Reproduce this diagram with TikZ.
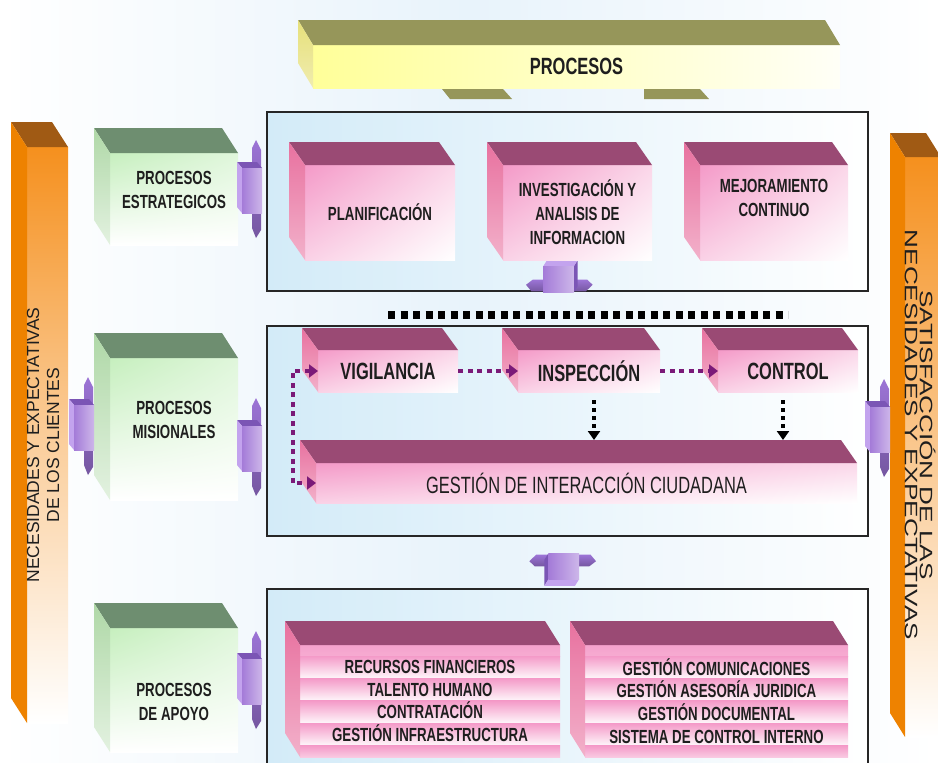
\documentclass[tikz,border=0pt]{standalone}
\usepackage{fontspec}
\setmainfont{Liberation Sans}
\newfontfamily\narrowfont[FakeStretch=0.7]{Liberation Sans}
\newfontfamily\widefont[FakeStretch=1.45]{Liberation Sans}
\usetikzlibrary{arrows.meta,positioning,calc,shadings}

\definecolor{bgBlue}{HTML}{E8F3FB}
\definecolor{frameBlue}{HTML}{D3EBF8}
\definecolor{txtDark}{HTML}{1E1E1E}
\definecolor{orangeF}{HTML}{F5901E}
\definecolor{orangeSide}{HTML}{EE8200}
\definecolor{orangeTop}{HTML}{A05A14}
\definecolor{yellowF}{HTML}{FFFF99}
\definecolor{yellowTop}{HTML}{96965A}
\definecolor{yellowSide}{HTML}{E6E07A}
\definecolor{greenF}{HTML}{C6EFBE}
\definecolor{greenTop}{HTML}{6E8E70}
\definecolor{greenSide}{HTML}{AFD8A7}
\definecolor{pinkF}{HTML}{F49AC8}
\definecolor{pinkTop}{HTML}{9A4A74}
\definecolor{pinkSide}{HTML}{E8719F}
\definecolor{jFront}{HTML}{A47BD8}
\definecolor{jTop}{HTML}{7B55B5}
\definecolor{jSide}{HTML}{C3A3EE}
\definecolor{jPlate}{HTML}{9C74D6}
\definecolor{dotPurple}{HTML}{7A1A78}

% top and left faces behind a front face node
\newcommand{\extrude}[5]{%
  \path[#4] (#1.north west) -- ($(#1.north west)+(-#2,-#3)$) -- ($(#1.north east)+(-#2,-#3)$) -- (#1.north east) -- cycle;
  \path[#5] (#1.north west) -- ($(#1.north west)+(-#2,-#3)$) -- ($(#1.south west)+(-#2,-#3)$) -- (#1.south west) -- cycle;
}

\begin{document}
\begin{tikzpicture}[
    x=1pt, y=-1pt,
    node distance=48pt,
    >={Triangle[length=9pt,width=13pt]},
    face/.style={anchor=north west, inner sep=0pt, outer sep=0pt, align=center, text=txtDark},
    frame/.style={anchor=north west, draw=black!85, line width=1.6pt, left color=frameBlue, right color=white, inner sep=0pt},
    greenface/.style={face, shade, upper left=greenF, upper right=greenF!55, lower left=white, lower right=white},
    pinkface/.style={face, shade, upper left=pinkF, upper right=pinkF!40, lower left=pinkF!45, lower right=white},
    stripes/.style={face, fill=pinkF!30, path picture={
        \foreach \k in {-1,...,4}
          \shade[top color=pinkF, bottom color=pinkF!8]
            ([yshift=-11pt-\k*22.4pt]path picture bounding box.north west) rectangle
            ([yshift=-33.4pt-\k*22.4pt]path picture bounding box.north east);
      }},
    boxtxt/.style={font=\narrowfont\bfseries\fontsize{19}{24}\selectfont, text=txtDark, align=center},
    listtxt/.style={font=\narrowfont\bfseries\fontsize{19}{22.7}\selectfont},
    midtxt/.style={font=\narrowfont\bfseries\fontsize{23.5}{26}\selectfont},
    ytop/.style={fill=yellowTop}, yside/.style={top color=yellowSide, bottom color=yellowSide!60},
    otop/.style={fill=orangeTop}, oside/.style={fill=orangeSide},
    gtop/.style={fill=greenTop}, gside/.style={top color=greenSide, bottom color=greenSide!35},
    ptop/.style={fill=pinkTop}, pside/.style={top color=pinkSide, bottom color=pinkSide!55},
    pdot/.style={draw=dotPurple, line width=4.5pt, dash pattern=on 5pt off 4.5pt},
    bdot/.style={draw=black, line width=3.5pt, dash pattern=on 4pt off 4pt, -{Triangle[length=9pt,width=12pt]}},
    joint/.pic={
      \shade[top color=jPlate, bottom color=jPlate!75!black] (2,-40) -- (6,-48) -- (11,-38) -- (11,42) -- (6,50) -- (2,40) -- cycle;
      \fill[jTop] (-13,-26) -- (7,-26) -- (12,-20) -- (-8,-20) -- cycle;
      \fill[jSide] (-13,-26) -- (-8,-20) -- (-8,25) -- (-13,19) -- cycle;
      \shade[left color=jFront, right color=jFront!55!white] (-8,-20) rectangle (12,25);
    }
  ]
    \useasboundingbox (0,0) rectangle (938,763);
    \shade[left color=white, right color=white, middle color=bgBlue] (0,0) rectangle (938,763);

    % frames
    \node[frame, minimum width=601pt, minimum height=179pt] (estr) at (266,111) {};
    \node[frame, minimum width=601pt, minimum height=210pt] (misi) at (266,325) {};
    \node[frame, minimum width=601pt, minimum height=200pt] (apoy) at (266,588) {};

    % procesos
    \fill[yellowTop] (442,89) -- (503,89) -- (512,99) -- (450,99) -- cycle;
    \fill[yellowTop] (644,89) -- (700,89) -- (709,99) -- (644,99) -- cycle;
    \node[face, left color=yellowF, right color=yellowF!8, minimum width=527pt, minimum height=43pt,
      font=\narrowfont\bfseries\fontsize{23.5}{26}\selectfont] (proc) at (313,45) {PROCESOS};
    \extrude{proc}{15}{25}{ytop}{yside}

    % side bars
    \node[face, top color=orangeF, bottom color=white, middle color=orangeF!45, minimum width=41pt, minimum height=576pt] (necl) at (27,147) {};
    \extrude{necl}{16}{25}{otop}{oside}
    \node[rotate=90, align=center, text=txtDark, font=\fontsize{17.5}{20}\selectfont] (necltxt) at (43,445)
      {NECESIDADES Y EXPECTATIVAS\\DE LOS CLIENTES};
    \node[face, top color=orangeF, bottom color=white, middle color=orangeF!50, minimum width=36pt, minimum height=580pt] (satr) at (905,157) {};
    \extrude{satr}{15}{24}{otop}{oside}
    \node[rotate=-90, align=center, text=txtDark, font=\widefont\fontsize{18}{15}\selectfont] (satrtxt) at (920,435)
      {SATISFACCIÓN DE LAS\\NECESIDADES Y EXPECTATIVAS};

    % process groups
    \node[greenface, minimum width=128pt, minimum height=92pt,
      label={[boxtxt, yshift=9pt]center:{PROCESOS\\ESTRATEGICOS}}] (gest) at (110,153) {};
    \node[greenface, minimum width=128pt, minimum height=142pt,
      label={[boxtxt, yshift=9pt]center:{PROCESOS\\MISIONALES}}] (gmis) at (110,358) {};
    \node[greenface, minimum width=128pt, minimum height=124pt,
      label={[boxtxt, yshift=-12pt]center:{PROCESOS\\DE APOYO}}] (gapo) at (110,628) {};
    \extrude{gest}{16}{25}{gtop}{gside}
    \extrude{gmis}{16}{25}{gtop}{gside}
    \extrude{gapo}{16}{25}{gtop}{gside}

    % joints
    \pic at (82,425) {joint};
    \pic at (250,188) {joint};
    \pic at (250,446) {joint};
    \pic at (250,679) {joint};
    \pic at (878,427) {joint};
    \pic[rotate=-90, xscale=1.3, yscale=0.68] at (560,277) {joint};
    \pic[rotate=90, xscale=1.3, yscale=0.68] at (562,569) {joint};

    % estrategicos
    \node[pinkface, boxtxt, minimum width=150pt, minimum height=95pt] (plan) at (305,165) {PLANIFICACIÓN};
    \node[pinkface, boxtxt, minimum width=149pt, minimum height=95pt, right=48pt of plan] (inve)
      {INVESTIGACIÓN Y\\ANALISIS DE\\INFORMACION};
    \node[pinkface, minimum width=148pt, minimum height=95pt, right=48pt of inve,
      label={[boxtxt, yshift=15pt]center:{MEJORAMIENTO\\CONTINUO}}] (mejo) {};
    \extrude{plan}{16}{23}{ptop}{pside}
    \extrude{inve}{16}{23}{ptop}{pside}
    \extrude{mejo}{16}{23}{ptop}{pside}

    % misionales
    \node[pinkface, midtxt, minimum width=140pt, minimum height=42pt] (vig) at (318,350) {VIGILANCIA};
    \node[pinkface, midtxt, minimum width=142pt, minimum height=42pt, right=60pt of vig] (ins) {INSPECCIÓN};
    \node[pinkface, midtxt, minimum width=140pt, minimum height=42pt, right=58pt of ins] (con) {CONTROL};
    \node[pinkface, font=\narrowfont\fontsize{23.5}{26}\selectfont, minimum width=541pt, minimum height=40pt] (gic) at (316,463)
      {GESTIÓN DE INTERACCIÓN CIUDADANA};
    \extrude{vig}{16}{22}{ptop}{pside}
    \extrude{ins}{16}{22}{ptop}{pside}
    \extrude{con}{16}{22}{ptop}{pside}
    \extrude{gic}{16}{23}{ptop}{pside}

    % apoyo
    \node[stripes, listtxt, minimum width=260pt, minimum height=112pt] (recu) at (300,645)
      {RECURSOS FINANCIEROS\\TALENTO HUMANO\\CONTRATACIÓN\\GESTIÓN INFRAESTRUCTURA};
    \node[stripes, listtxt, minimum width=263pt, minimum height=112pt, right=25pt of recu] (gcom)
      {GESTIÓN COMUNICACIONES\\GESTIÓN ASESORÍA JURIDICA\\GESTIÓN DOCUMENTAL\\SISTEMA DE CONTROL INTERNO};
    \extrude{recu}{15}{24}{ptop}{pside}
    \extrude{gcom}{15}{24}{ptop}{pside}

    % flows
    \coordinate (dotL) at (388,315);
    \coordinate (dotR) at (788,315);
    \coordinate (gictop) at (0,440);
    \draw[draw=black, line width=8pt, dash pattern=on 7pt off 5.5pt] (dotL) -- (dotR);
    \draw[pdot, <->] (vig.west) -- ++(-25,0) |- (gic.west);
    \draw[pdot, ->] (vig) -- (ins);
    \draw[pdot, ->] (ins) -- (con);
    \draw[bdot, shorten <=8pt] ([xshift=5pt]ins.south) -- ([xshift=5pt]ins.south |- gictop);
    \draw[bdot, shorten <=8pt] ([xshift=-5pt]con.south) -- ([xshift=-5pt]con.south |- gictop);
  \end{tikzpicture}
\end{document}
